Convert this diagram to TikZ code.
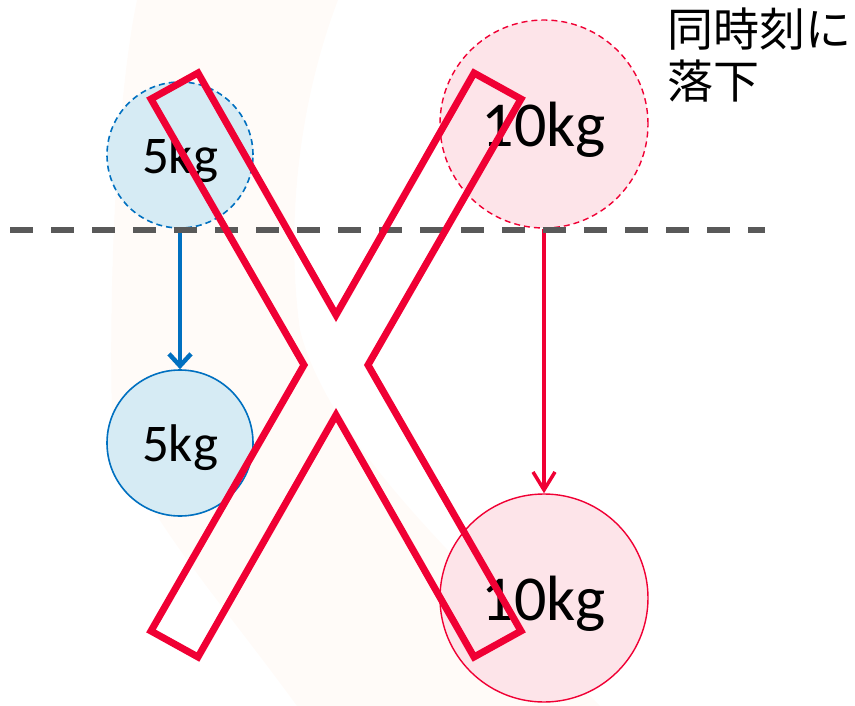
\documentclass[tikz,border=0pt]{standalone}
\usepackage{fontspec}
\setmainfont{Carlito}
\newfontfamily\cjk{Noto Sans CJK JP}
\usetikzlibrary{arrows.meta}
\definecolor{xred}{RGB}{240,0,52}
\definecolor{bblue}{RGB}{0,112,192}
\definecolor{bfill}{RGB}{214,235,244}
\definecolor{pfill}{RGB}{253,228,233}
\definecolor{dgray}{RGB}{89,89,89}
\definecolor{bgtint}{RGB}{255,251,248}
\begin{document}
\begin{tikzpicture}[x=1pt,y=-1pt,
  ball/.style={circle, inner sep=0pt, text depth=0pt},
  blueball/.style={ball, fill=bfill, draw=bblue, line width=1.6pt, minimum size=146pt, font=\fontsize{53}{53}\selectfont},
  redball/.style={ball, fill=pfill, draw=xred, line width=1.4pt, minimum size=208pt, font=\fontsize{64}{64}\selectfont},
  ghost/.style={dash pattern=on 6pt off 4pt},
  fallarrow/.style={line width=4.5pt, -{Straight Barb[length=12pt,width=22pt]}},
  refline/.style={dgray, line width=6pt, dash pattern=on 23pt off 18pt},
  cross/.style={xred, line width=7pt, line join=miter},
  caption/.style={font=\cjk\fontsize{46}{52}\selectfont, inner sep=0pt, anchor=base west}
]
\useasboundingbox (0,0) rectangle (855,706);
% faint background tint
\fill[bgtint] (137,0) .. controls (120,80) and (108,250) .. (112,420)
  .. controls (130,500) and (220,600) .. (297,706) -- (600,706)
  .. controls (480,580) and (330,450) .. (300,330)
  .. controls (285,220) and (300,100) .. (338,0) -- cycle;
% balls
\node[blueball, ghost] (b1) at (180,155) {5kg};
\node[blueball] (b2) at (180,443) {5kg};
\node[redball, ghost] (r1) at (544,124) {10kg};
\node[redball] (r2) at (544,598) {10kg};
% fall arrows
\draw[fallarrow, bblue] (b1.south) -- (b2.north);
\draw[fallarrow, xred, line width=3.5pt, -{Straight Barb[length=18pt,width=22pt]}] (r1.south) -- (r2.north);
% reference line
\coordinate (la) at (10,230);
\coordinate (lb) at (765,230);
\draw[refline] (la) -- (lb);
% caption
\node[caption] (t1) at (667,47) {同時刻に};
\node[caption] (t2) at (667,99) {落下};
% cross mark
\draw[cross] (198,73) -- (336,315) -- (474,73) -- (521,99) -- (368,365)
  -- (521,631) -- (474,657) -- (336,415) -- (198,657) -- (151,631)
  -- (304,365) -- (151,99) -- cycle;
\end{tikzpicture}
\end{document}
